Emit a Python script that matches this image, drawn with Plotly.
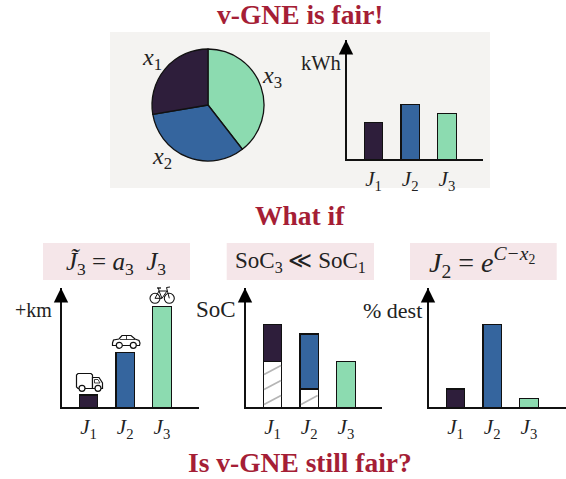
import plotly.graph_objects as go

W, H = 566, 479
jobs = ["<i>J</i><sub>1</sub>", "<i>J</i><sub>2</sub>", "<i>J</i><sub>3</sub>"]
bar_colors = ["#2e1e3b", "#35659e", "#8cdbb0"]
pie_labels = ["x3", "x2", "x1"]
pie_values = [39.5, 32.8, 27.7]
pie_colors = ["#8cdbb0", "#35659e", "#2e1e3b"]
kwh = [2.0, 3.0, 2.5]
km = [0.67, 3.0, 5.5]
soc_low = [2.5, 1.0, None]
soc_high = [2.0, 3.0, 2.5]
dest = [1.0, 4.5, 0.5]

SERIF = "Liberation Serif"
TXT = "#222222"
TITLE = "#a51e36"
PINK = "#f5e6e9"


def px(x):
    return x / W


def py(y):
    return 1 - y / H


def path(points, close=False):
    s = ""
    for i, (x, y) in enumerate(points):
        s += ("M" if i == 0 else "L") + f"{px(x):.5f},{py(y):.5f} "
    return s + ("Z" if close else "")


fig = go.Figure()
shapes = []
annotations = []


def rect(x0, y0, x1, y1, color):
    shapes.append(dict(type="rect", xref="paper", yref="paper", x0=px(x0), x1=px(x1), y0=py(y1), y1=py(y0),
                       fillcolor=color, line_width=0, layer="below"))


def label(x, y, text, size=18, color=TXT, **kw):
    annotations.append(dict(x=px(x), y=py(y), xref="paper", yref="paper", text=text, showarrow=False,
                            xanchor="center", yanchor="middle", font=dict(family=SERIF, size=size, color=color), **kw))


def line(points, width=1.2, color="#111111", fill=None, close=False):
    shapes.append(dict(type="path", xref="paper", yref="paper", path=path(points, close),
                       line=dict(color=color, width=width), fillcolor=fill or "rgba(0,0,0,0)"))


def circle(cx, cy, r, width=1.2, fill="white"):
    shapes.append(dict(type="circle", xref="paper", yref="paper", x0=px(cx - r), x1=px(cx + r),
                       y0=py(cy + r), y1=py(cy - r), line=dict(color="#111111", width=width), fillcolor=fill))


rect(110, 32, 490, 188, "#f4f3f1")
rect(43, 243, 190, 280, PINK)
rect(226.7, 243, 374, 280, PINK)
rect(410, 243, 556.7, 280, PINK)

# panels: key, left px, right px, baseline px
UNIT = 18.33
CAT = 36.7
OFF = 0.7  # plotly draws axis lines just outside the plot area
panels = [
    ("", 346, 483, 160, 40),
    ("2", 61, 199, 408, 288),
    ("3", 245, 382, 408, 288),
    ("4", 428, 565.5, 408, 288),
]


def add_bars(axis_key, values, colors=bar_colors):
    fig.add_trace(go.Bar(x=jobs, y=values, xaxis="x" + axis_key, yaxis="y" + axis_key, width=0.5,
                         marker=dict(color=colors, line=dict(color="#111111", width=1.1)), showlegend=False))


add_bars("", kwh)
add_bars("2", km)
fig.add_trace(go.Bar(x=jobs, y=soc_low, xaxis="x3", yaxis="y3", width=0.5, showlegend=False,
                     marker=dict(color="white", line=dict(color="#111111", width=1.1))))
add_bars("3", soc_high)
add_bars("4", dest)

fig.add_trace(go.Pie(labels=pie_labels, values=pie_values, sort=False, direction="clockwise", rotation=0,
                     marker=dict(colors=pie_colors, line=dict(color="#111111", width=1.3)),
                     textinfo="none", showlegend=False,
                     domain=dict(x=[px(152), px(264)], y=[py(161), py(49)])))

layout_axes = {}
for key, x0, x1, base, top in panels:
    # the category axis is scaled so bars sit one CAT apart, first centre 27.5px from the y axis
    span = (x1 - x0 - OFF) / CAT
    lo = -(27.5 - OFF) / CAT
    layout_axes["xaxis" + key] = dict(domain=[px(x0 + OFF), px(x1)], anchor="y" + key, type="category",
                                      range=[lo, lo + span], showgrid=False, zeroline=False,
                                      showline=True, linecolor="#111111", linewidth=1.6, ticks="",
                                      tickfont=dict(family=SERIF, size=21, color=TXT), fixedrange=True)
    layout_axes["yaxis" + key] = dict(domain=[py(base - OFF), py(top)], anchor="x" + key,
                                      range=[0, (base - OFF - top) / UNIT], showgrid=False, zeroline=False,
                                      showline=True, linecolor="#111111", linewidth=1.6, ticks="",
                                      showticklabels=False, fixedrange=True)
    annotations.append(dict(x=px(x0), y=py(top), ax=0, ay=14, axref="pixel", ayref="pixel", xref="paper", yref="paper",
                            text="", showarrow=True, arrowhead=2,
                            arrowsize=1.6, arrowwidth=1.8, arrowcolor="#000000"))

# titles
label(300, 15, "<b>v-GNE is fair!</b>", 27.5, TITLE)
label(300, 216, "<b>What if</b>", 27.5, TITLE)
label(300, 462, "<b>Is v-GNE still fair?</b>", 27.5, TITLE)

# pie labels
label(152, 59, "<i>x</i><sub>1</sub>", 24)
label(162, 158, "<i>x</i><sub>2</sub>", 24)
label(272, 77, "<i>x</i><sub>3</sub>", 24)

# axis captions
label(321, 63, "kWh", 20.5)
label(33.5, 310, "+km", 20)
label(216, 309, "SoC", 23)
label(392.5, 310, "% dest", 22)

# condition boxes
label(116, 263, "<i>J\u0303</i><sub>3</sub> = <i>a</i><sub>3</sub>  <i>J</i><sub>3</sub>", 25)
label(300, 262, "SoC<sub>3</sub> \u226a SoC<sub>1</sub>", 23)
label(482, 262, "<i>J</i><sub>2</sub> = <i>e</i><sup><i>C\u2212x</i><sub>2</sub></sup>", 28)

# hatching of the low-charge part of the SoC bars
for pts in ([(264, 374.6), (281, 365.4)], [(264, 389.6), (281, 380.4)], [(264, 404.6), (281, 395.4)],
            [(301, 404.6), (317.6, 395.4)]):
    line(pts, width=1.7, color="#b5b5b5")

# truck
line([(78, 373.5), (91, 373.5), (92.5, 375), (92.5, 388.5), (78, 388.5), (76.5, 387), (76.5, 375)], fill="white", close=True)
line([(92.5, 377.5), (99, 377.5), (102.5, 383), (102.5, 388.5), (92.5, 388.5)], fill="white", close=True)
line([(94.5, 379.5), (98, 379.5), (100, 383), (94.5, 383)], width=0.8, close=True)
circle(82, 388.3, 3)
circle(98, 388.3, 3)
# car
line([(112.5, 343), (113.5, 340), (119, 339), (122, 335.5), (131, 335.5), (135, 339), (139, 340.5), (140, 343), (139.5, 345.5),
      (112.5, 345.5)], fill="white", close=True)
line([(120, 339.5), (135, 339.5)], width=0.8)
line([(126.5, 336), (126.5, 339.5)], width=0.8)
circle(119.3, 345.3, 3)
circle(133.3, 345.3, 3)
# bicycle
circle(155, 298.3, 5, 1.1, "rgba(0,0,0,0)")
circle(169.3, 298.3, 5, 1.1, "rgba(0,0,0,0)")
line([(155, 298.3), (159, 291), (167, 291), (162, 298.3), (155, 298.3)], width=1.0)
line([(159, 291), (162, 298.3)], width=1.0)
line([(169.3, 298.3), (166.5, 287.5), (170, 287)], width=1.0)
line([(157, 288), (161, 288)], width=1.3)
line([(158.5, 288), (159, 291)], width=1.0)

fig.update_layout(width=W, height=H, autosize=False, margin=dict(l=0, r=0, t=0, b=0), paper_bgcolor="white",
                  plot_bgcolor="rgba(0,0,0,0)", barmode="stack", bargap=0.5, shapes=shapes,
                  annotations=annotations, **layout_axes)
fig.write_html("out.html", config=dict(displayModeBar=False),
               post_script="document.body.style.margin='0';")
